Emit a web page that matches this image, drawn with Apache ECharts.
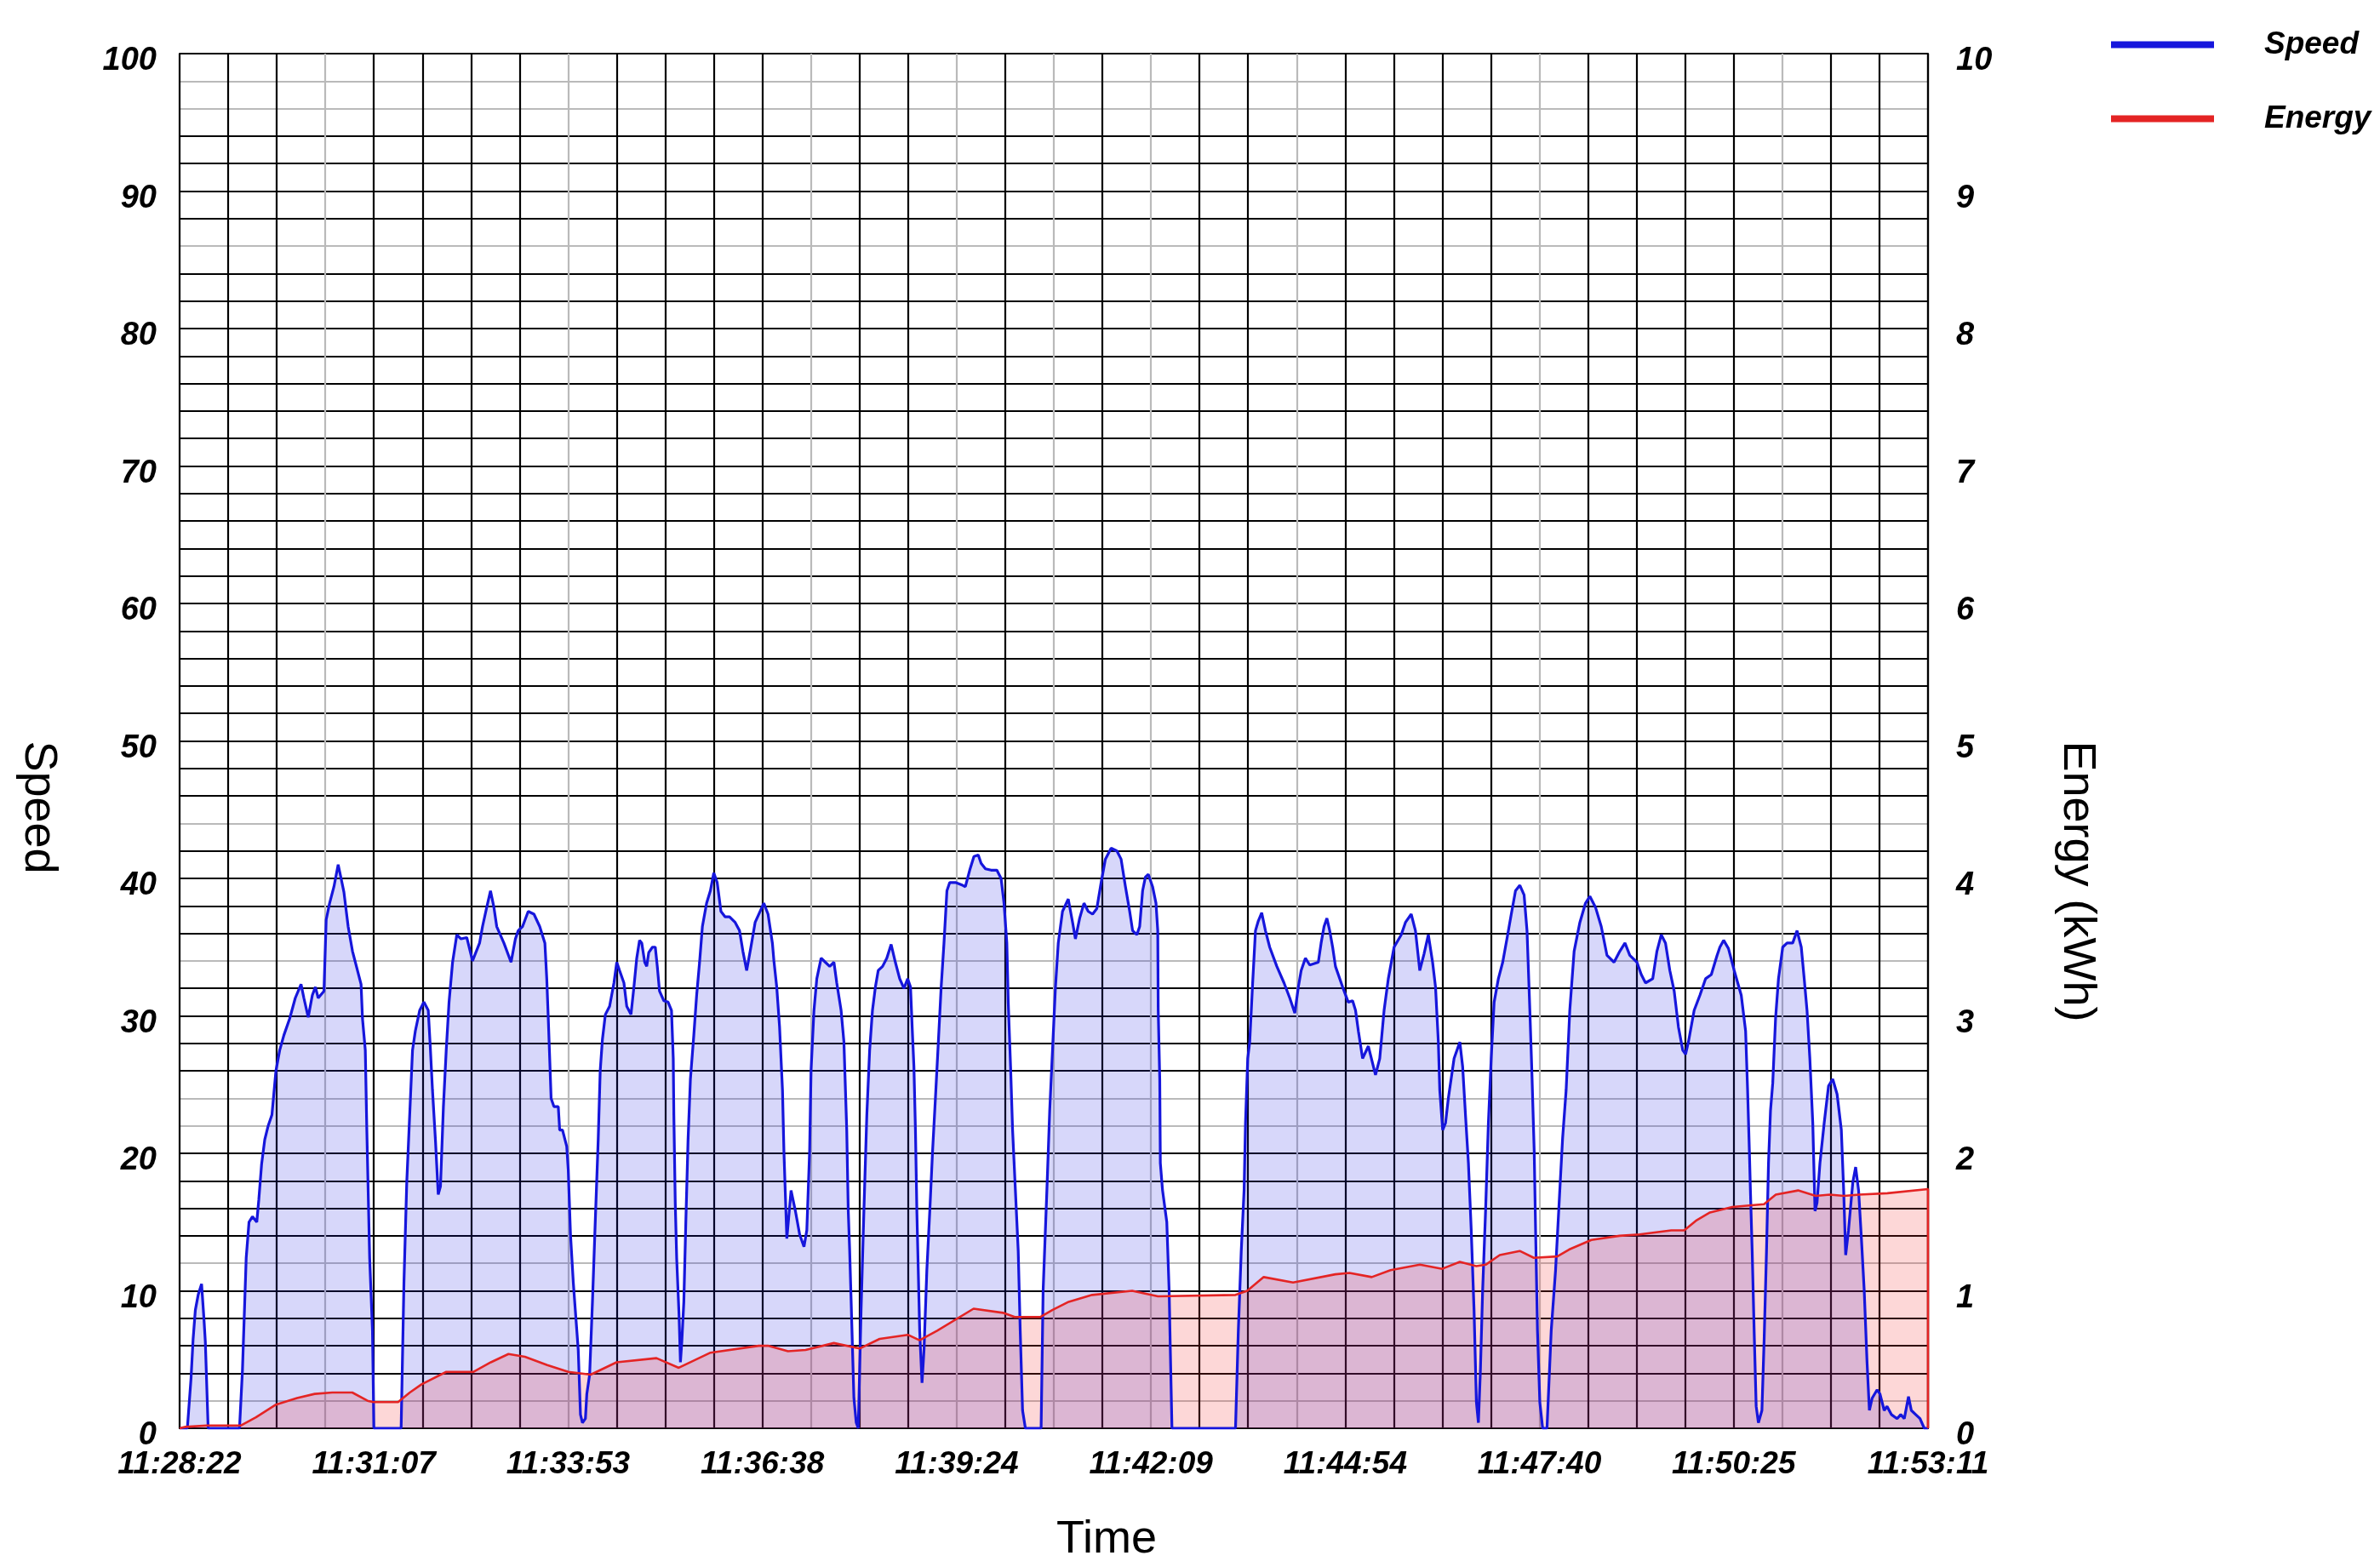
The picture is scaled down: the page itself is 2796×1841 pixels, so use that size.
<!DOCTYPE html>
<html>
<head>
<meta charset="utf-8">
<title>Speed / Energy</title>
<script src="https://cdn.jsdelivr.net/npm/echarts@6/dist/echarts.min.js"></script>
<style>
  html, body { margin: 0; padding: 0; background: #fff; }
  #main { width: 2796px; height: 1841px; }
</style>
</head>
<body>
<div id="main"></div>
<script>
// seconds since 11:28:22, km/h
const speedPoints = [
  [0, 0], [6.6, 0], [9.7, 3.6], [11.5, 6.5], [13.4, 8.6], [15.8, 9.7], [18.7, 10.5], [20.7, 8], [21.9, 6.3], [24.3, 0],
  [51, 0], [53.5, 4.2], [56.7, 12.4], [59.1, 15], [62, 15.4], [65.7, 15], [67.4, 16.6], [69.8, 19.2], [72.5, 21], [75.4, 22],
  [78.6, 22.8], [82, 26], [85.2, 27.5], [88.8, 28.6], [93.7, 29.8], [98.5, 31.3], [103.4, 32.3], [105.8, 31.3], [109.5, 29.9],
  [113, 31.5], [115.6, 32.1], [118, 31.3], [122.9, 31.8], [124.8, 37], [127.7, 38.2], [131.4, 39.4], [135, 41], [137.5, 40],
  [139.9, 39], [143.5, 36.5], [147.2, 34.7], [154.5, 32.3], [155.7, 29.8], [158.1, 27.5], [159.4, 21.7], [161.8, 12.4],
  [164.2, 7.1], [165.4, 0],
  [188.6, 0], [191, 10.6], [193.4, 17.9], [195.9, 22.8], [198.3, 27.5], [200.7, 28.9], [204.4, 30.4], [208, 31], [211.7, 30.4],
  [213.4, 27.8], [215.3, 24.6], [217.8, 21], [220.2, 17], [222.1, 17.6], [224.6, 23.4], [227, 27.5], [229.4, 31], [232.4, 33.9],
  [236, 35.9], [239.6, 35.6], [244.5, 35.7], [249.4, 34], [255.4, 35.3], [257.9, 36.5], [261.5, 37.9], [264.7, 39.1],
  [267.6, 37.9], [270, 36.5], [276.1, 35.3], [282.2, 33.9], [285.9, 35.6], [288.3, 36.2], [292, 36.5], [296.8, 37.6],
  [301.7, 37.4], [306.6, 36.5], [311, 35.3], [312.6, 32.7], [313.9, 29.8], [315.1, 26.9], [316.3, 24], [318.7, 23.4],
  [322.4, 23.4], [323.6, 21.7], [326, 21.7], [329.6, 20.5], [330.9, 18.8], [332.8, 14.1], [335.2, 10.6], [336.9, 8.6],
  [339.4, 5.7], [341.3, 1], [343, 0.4], [345.5, 0.7], [346.7, 2.5], [349.1, 3.9], [351.5, 9.2], [354, 15.3], [356.4, 21],
  [358.1, 26], [360, 28.3], [362.5, 30.1], [366.1, 30.7], [369.8, 32.4], [372.2, 33.9], [374.6, 33.3], [378.3, 32.4],
  [380.7, 30.7], [384.3, 30.1], [386.8, 32.1], [389.2, 34.2], [391.6, 35.5], [393.5, 35.3], [396, 33.9], [397.7, 33.6],
  [399.4, 34.6], [402.6, 35], [405, 35], [406.7, 33.6], [408.6, 31.8], [412.3, 31.1], [415.9, 31], [418.8, 30.4],
  [420.3, 26.9], [420.8, 22.8], [422, 16.4], [423.2, 12.4], [425.2, 8.3], [426.4, 4.8], [427.6, 6.3], [429.3, 9.2],
  [431, 15], [432.9, 21], [434.9, 25.4], [437.8, 28.6], [440.2, 31.5], [442.7, 33.9], [445.1, 36.5], [448.7, 38.2],
  [451.9, 39.1], [454.8, 40.4], [457.7, 39.7], [460.9, 37.6], [464.5, 37.2], [468.2, 37.2], [473, 36.8], [476.7, 36.2],
  [479.6, 34.7], [482.8, 33.3], [486.4, 35], [490, 36.8], [493.7, 37.5], [497.4, 38.2], [501, 37.4], [504.7, 35.3],
  [506, 34], [508.4, 32.1], [510.8, 29.2], [513.3, 24.6], [514.5, 20.2], [517, 13.8], [520.6, 17.3], [524.3, 15.8],
  [527.9, 14.1], [531.6, 13.2], [534, 14.4], [536.4, 20.2], [537.6, 26], [540.1, 30.4], [542.5, 32.7], [546.2, 34.2],
  [549.8, 33.9], [553.5, 33.6], [557.1, 33.9], [559.5, 32.4], [563.2, 30.4], [565.6, 28.1], [566.8, 24.9], [568, 21.7],
  [569.3, 15.8], [570.5, 12.9], [571.7, 9.4], [574.1, 2.2], [576.1, 0.4], [577.8, 0], [580.2, 8.6], [582.6, 15.8],
  [585.1, 22.8], [587.5, 27.5], [589.9, 30.4], [592.4, 32.1], [594.8, 33.3], [598.5, 33.6], [602.1, 34.2], [605.8, 35.2],
  [609.4, 33.9], [613.1, 32.7], [616.7, 32], [619.9, 32.7], [622.3, 32.1], [624, 28.6], [625.2, 26.3], [626.5, 21.7],
  [627.7, 15.8], [628.9, 11.5], [630.1, 7.1], [632.1, 3.3], [633.8, 5.7], [636.2, 11.5], [638.7, 15.8], [641.1, 20.2],
  [643.5, 24], [646, 28.1], [648.4, 32.1], [650.8, 35.3], [653.3, 39.1], [655.7, 39.7], [660.6, 39.7], [666.6, 39.5],
  [669, 39.4], [672.7, 40.6], [676.3, 41.6], [680, 41.7], [682.4, 41.1], [686.1, 40.7], [690.9, 40.6], [695.8, 40.6],
  [699.4, 40], [701.9, 38.2], [704.3, 35.3], [705.5, 31], [707.5, 26.3], [709.2, 21.7], [711.6, 17.3], [714, 12.9],
  [715.7, 7.1], [717.7, 1.3], [720.1, 0],
  [733.5, 0], [735.2, 10], [738.4, 17.3], [740.8, 23.1], [743.2, 27.5], [745.7, 32.1], [748.1, 35.3], [751.7, 37.6],
  [756.6, 38.5], [760.3, 36.8], [762.7, 35.6], [766.3, 37.1], [770, 38.2], [773.6, 37.6], [777.3, 37.4], [780.9, 37.8],
  [784.6, 39.7], [788.2, 41.4], [793.1, 42.2], [798, 42], [801.6, 41.4], [805.3, 39.4], [808.9, 37.6], [811.4, 36.2],
  [815, 35.9], [817.4, 36.5], [819.9, 39.1], [822.3, 40.1], [824.8, 40.3], [828.4, 39.4], [831.3, 38.2], [832.8, 36.2],
  [833.2, 30.4], [834.5, 25.4], [835, 19.3], [836.9, 17.3], [840.5, 15], [842.5, 10], [843.5, 5.7], [844.9, 0],
  [899, 0], [901.4, 7.1], [903.9, 12.9], [906.3, 17.3], [907.5, 22.2], [909.4, 26.9], [911.1, 28.1], [913.6, 32.4],
  [916, 36.2], [918.4, 36.9], [921.3, 37.5], [924.5, 36.2], [928.1, 35], [934.2, 33.6], [940.3, 32.4], [945.2, 31.3],
  [949.5, 30.2], [952.5, 32.1], [954.9, 33.3], [958.5, 34.2], [962.2, 33.7], [969.5, 33.9], [971.9, 35.3], [974.4, 36.5],
  [976.8, 37.1], [979.2, 36.2], [981.7, 35], [984.1, 33.6], [990.2, 32.1], [995, 31], [998.7, 31.1], [1001.2, 30.4],
  [1003.6, 28.9], [1007.2, 26.9], [1012.1, 27.8], [1018.2, 25.7], [1021.8, 26.9], [1025.5, 30.4], [1029.1, 32.7],
  [1034, 35], [1040.1, 35.9], [1043.7, 36.8], [1048.6, 37.4], [1052.2, 36.2], [1055.9, 33.3], [1059.5, 34.5],
  [1063.2, 35.9], [1066.8, 33.9], [1069.3, 32.1], [1071.7, 28.1], [1072.9, 24.6], [1075.4, 21.7], [1077.8, 22.2],
  [1080.2, 24], [1085.1, 26.9], [1090, 28.1], [1092.4, 26.3], [1094.8, 22.8], [1097.3, 19.3], [1099.7, 14.4],
  [1102.1, 8.6], [1104.1, 1.9], [1105.8, 0.4], [1107.5, 4.2], [1109.4, 10], [1111.9, 15.8], [1114.3, 22.2],
  [1116.7, 26.9], [1119.2, 31], [1122.8, 32.7], [1126.5, 33.9], [1130.1, 35.6], [1133.8, 37.4], [1137.4, 39.1],
  [1141.1, 39.5], [1144.7, 38.8], [1147.2, 36.2], [1148.4, 33.3], [1149.6, 30.4], [1151.3, 26], [1153.3, 20.2],
  [1154.5, 14.4], [1156.1, 7.1], [1158.1, 1.9], [1160.5, 0], [1164.2, 0], [1167.8, 7.1], [1171.5, 11.5], [1175.1, 17.3],
  [1177.5, 21.1], [1180.5, 24.6], [1183.6, 30.4], [1187.3, 34.7], [1192.2, 36.8], [1197, 38.2], [1200.7, 38.7],
  [1205.5, 37.9], [1210.4, 36.5], [1215.3, 34.4], [1221.3, 33.9], [1226.2, 34.7], [1230.6, 35.3], [1234.7, 34.4],
  [1240.8, 33.9], [1244.5, 33], [1248.1, 32.4], [1254.2, 32.7], [1257.8, 34.7], [1261.5, 35.9], [1265.1, 35.3],
  [1268.8, 33.3], [1272.5, 31.8], [1276.1, 29.2], [1279.8, 27.5], [1282.2, 27.2], [1284.6, 28.1], [1289.5, 30.4],
  [1294.4, 31.5], [1299.2, 32.7], [1304.1, 33], [1309, 34.4], [1311.4, 35], [1314.6, 35.5], [1318.7, 34.9],
  [1323.6, 33.3], [1329.6, 31.5], [1333.3, 28.9], [1335, 24.6], [1336.5, 20.2], [1337.4, 17.3], [1338.9, 12.9],
  [1340.6, 7], [1342.3, 1.6], [1344.2, 0.4], [1347.2, 1.3], [1349.1, 6.5], [1351.1, 12.9], [1352.8, 19.3],
  [1354.5, 23.1], [1356.4, 25.1], [1358.8, 29.8], [1361.3, 32.7], [1364.9, 35], [1368.6, 35.3], [1373.4, 35.3],
  [1377.1, 36.2], [1380.7, 35], [1383.2, 32.7], [1385.6, 30.4], [1388, 26.9], [1390.5, 22.2], [1392.4, 15.8],
  [1394.1, 16.4], [1396.6, 19.3], [1400.2, 22.2], [1403.9, 24.9], [1407.5, 25.4], [1411.2, 24.3], [1414.8, 21.7],
  [1416.8, 17.3], [1418.5, 12.6], [1420.9, 14.4], [1424.6, 17.9], [1427, 19], [1429.5, 17.3], [1431.9, 13.8],
  [1434.3, 10], [1436.7, 4.8], [1438.7, 1.3], [1441.1, 2.2], [1445.3, 2.8], [1447.7, 2.5], [1451.3, 1.3], [1453.7, 1.6],
  [1457.4, 1], [1462.3, 0.7], [1465.4, 1], [1468.4, 0.7], [1472, 2.3], [1474.4, 1.3], [1478.1, 1], [1481.8, 0.7],
  [1485.4, 0], [1488.6, 0]
];

// seconds since 11:28:22, kWh
const energyPoints = [
  [0, 0], [5, 0.01], [23, 0.02], [52, 0.02], [65, 0.08], [81.5, 0.17], [100, 0.22], [115, 0.25], [130, 0.26], [147, 0.26],
  [160, 0.2], [165, 0.19], [186, 0.19], [196, 0.26], [206, 0.32], [227, 0.41], [250, 0.41], [265, 0.48], [280, 0.54],
  [294, 0.52], [313, 0.46], [331, 0.41], [350, 0.39], [372, 0.48], [406, 0.51], [425, 0.44], [452, 0.55], [493, 0.6],
  [501, 0.6], [518, 0.56], [533, 0.57], [557, 0.62], [579, 0.58], [596, 0.65], [620, 0.68], [630, 0.64], [645, 0.71],
  [676, 0.87], [701, 0.84], [711, 0.81], [733, 0.81], [743, 0.86], [757, 0.92], [777, 0.97], [811, 1.0], [833, 0.96],
  [899, 0.97], [909, 1.0], [923, 1.1], [948, 1.06], [984, 1.12], [996, 1.13], [1015, 1.1], [1031, 1.15], [1056, 1.19],
  [1075, 1.16], [1090, 1.21], [1104, 1.18], [1112, 1.19], [1124, 1.26], [1141, 1.29], [1153, 1.24], [1173, 1.25],
  [1183, 1.3], [1202, 1.37], [1226, 1.4], [1243, 1.41], [1270, 1.44], [1281, 1.44], [1291, 1.51], [1303, 1.57],
  [1322, 1.61], [1349, 1.63], [1359, 1.7], [1378, 1.73], [1393, 1.69], [1405, 1.7], [1417, 1.69], [1430, 1.7],
  [1454, 1.71], [1488.6, 1.74], [1488.6, 0]
];

const timeLabels = ['11:28:22', '11:31:07', '11:33:53', '11:36:38', '11:39:24', '11:42:09', '11:44:54', '11:47:40', '11:50:25', '11:53:11'];
const seriesNames = ['Speed', 'Energy'];

const timeSpan = 1488.6;     // 11:28:22 -> 11:53:11
const colStep = timeSpan / 36; // 4 grid columns per time label
const font = "'Liberation Sans', Arial, Helvetica, sans-serif";

// scanned grid has some lines that came out light grey
const dark = '#000', light = '#bababa';
const xGridColors = [];
for (let i = 0; i <= 36; i++) xGridColors.push([3, 8, 13, 16, 18, 20, 23, 28, 33].indexOf(i) > -1 ? light : dark);
const yGridColors = [];
for (let i = 0; i <= 50; i++) yGridColors.push([1, 6, 11, 12, 17, 22, 43, 48, 49].indexOf(i) > -1 ? light : dark);

const tickText = {
  fontFamily: font, fontSize: 38, fontWeight: 'bold', fontStyle: 'italic', color: '#000'
};
const nameText = { fontFamily: font, fontSize: 54, color: '#000' };

const chart = echarts.init(document.getElementById('main'));
chart.setOption({
  animation: false,
  backgroundColor: '#fff',
  color: ['#1616dc', '#e42424'],
  grid: { left: 211, right: 531, top: 63, bottom: 152, containLabel: false },
  legend: {
    orient: 'vertical',
    left: 2480,
    top: 34,
    padding: 0,
    itemWidth: 121,
    itemHeight: 8,
    itemGap: 50,
    icon: 'rect',
    data: seriesNames,
    textStyle: Object.assign({}, tickText, { fontSize: 37, padding: [0, 0, 0, 54] })
  },
  xAxis: {
    type: 'value',
    min: 0,
    max: timeSpan,
    interval: colStep,
    name: 'Time',
    nameLocation: 'middle',
    nameGap: 104,
    nameTextStyle: Object.assign({}, nameText, { padding: [0, 0, 0, 124] }),
    axisLine: { show: true, lineStyle: { color: '#000', width: 2 } },
    axisTick: { show: false },
    axisLabel: Object.assign({}, tickText, {
      fontSize: 37,
      margin: 24,
      showMinLabel: true,
      showMaxLabel: true,
      formatter: function (v) {
        const i = Math.round(v / colStep);
        return i % 4 === 0 ? (timeLabels[i / 4] || '') : '';
      }
    }),
    splitLine: { show: true, lineStyle: { color: xGridColors, width: 2.2 } }
  },
  yAxis: [
    {
      type: 'value',
      min: 0,
      max: 100,
      interval: 2,
      name: 'Speed',
      nameLocation: 'middle',
      nameRotate: -90,
      nameGap: 166,
      nameTextStyle: Object.assign({}, nameText, { align: 'left', verticalAlign: 'middle' }),
      axisLine: { show: true, lineStyle: { color: '#000', width: 2 } },
      axisTick: { show: false },
      axisLabel: Object.assign({}, tickText, {
        margin: 27,
        verticalAlign: 'top',
        lineHeight: 18,
        formatter: function (v) { return v % 10 === 0 ? String(v) : ''; }
      }),
      splitLine: { show: true, lineStyle: { color: yGridColors, width: 2.2 } }
    },
    {
      type: 'value',
      min: 0,
      max: 10,
      interval: 0.2,
      name: 'Energy (kWh)',
      nameLocation: 'middle',
      nameRotate: -90,
      nameGap: 175,
      nameTextStyle: Object.assign({}, nameText, { align: 'left', verticalAlign: 'middle' }),
      axisLine: { show: true, lineStyle: { color: '#000', width: 2 } },
      axisTick: { show: false },
      axisLabel: Object.assign({}, tickText, {
        margin: 33,
        verticalAlign: 'top',
        lineHeight: 18,
        formatter: function (v) {
          const r = Math.round(v);
          return Math.abs(v - r) < 1e-6 ? String(r) : '';
        }
      }),
      splitLine: { show: false }
    }
  ],
  series: [
    {
      name: seriesNames[0],
      type: 'line',
      yAxisIndex: 0,
      data: speedPoints,
      showSymbol: false,
      lineStyle: { color: '#1616dc', width: 3.2 },
      areaStyle: { color: 'rgba(30, 30, 225, 0.25)' }
    },
    {
      name: seriesNames[1],
      type: 'line',
      yAxisIndex: 1,
      data: energyPoints,
      showSymbol: false,
      lineStyle: { color: '#e42424', width: 2.6 },
      areaStyle: { color: 'rgba(245, 45, 45, 0.27)' }
    }
  ]
});
</script>
</body>
</html>
